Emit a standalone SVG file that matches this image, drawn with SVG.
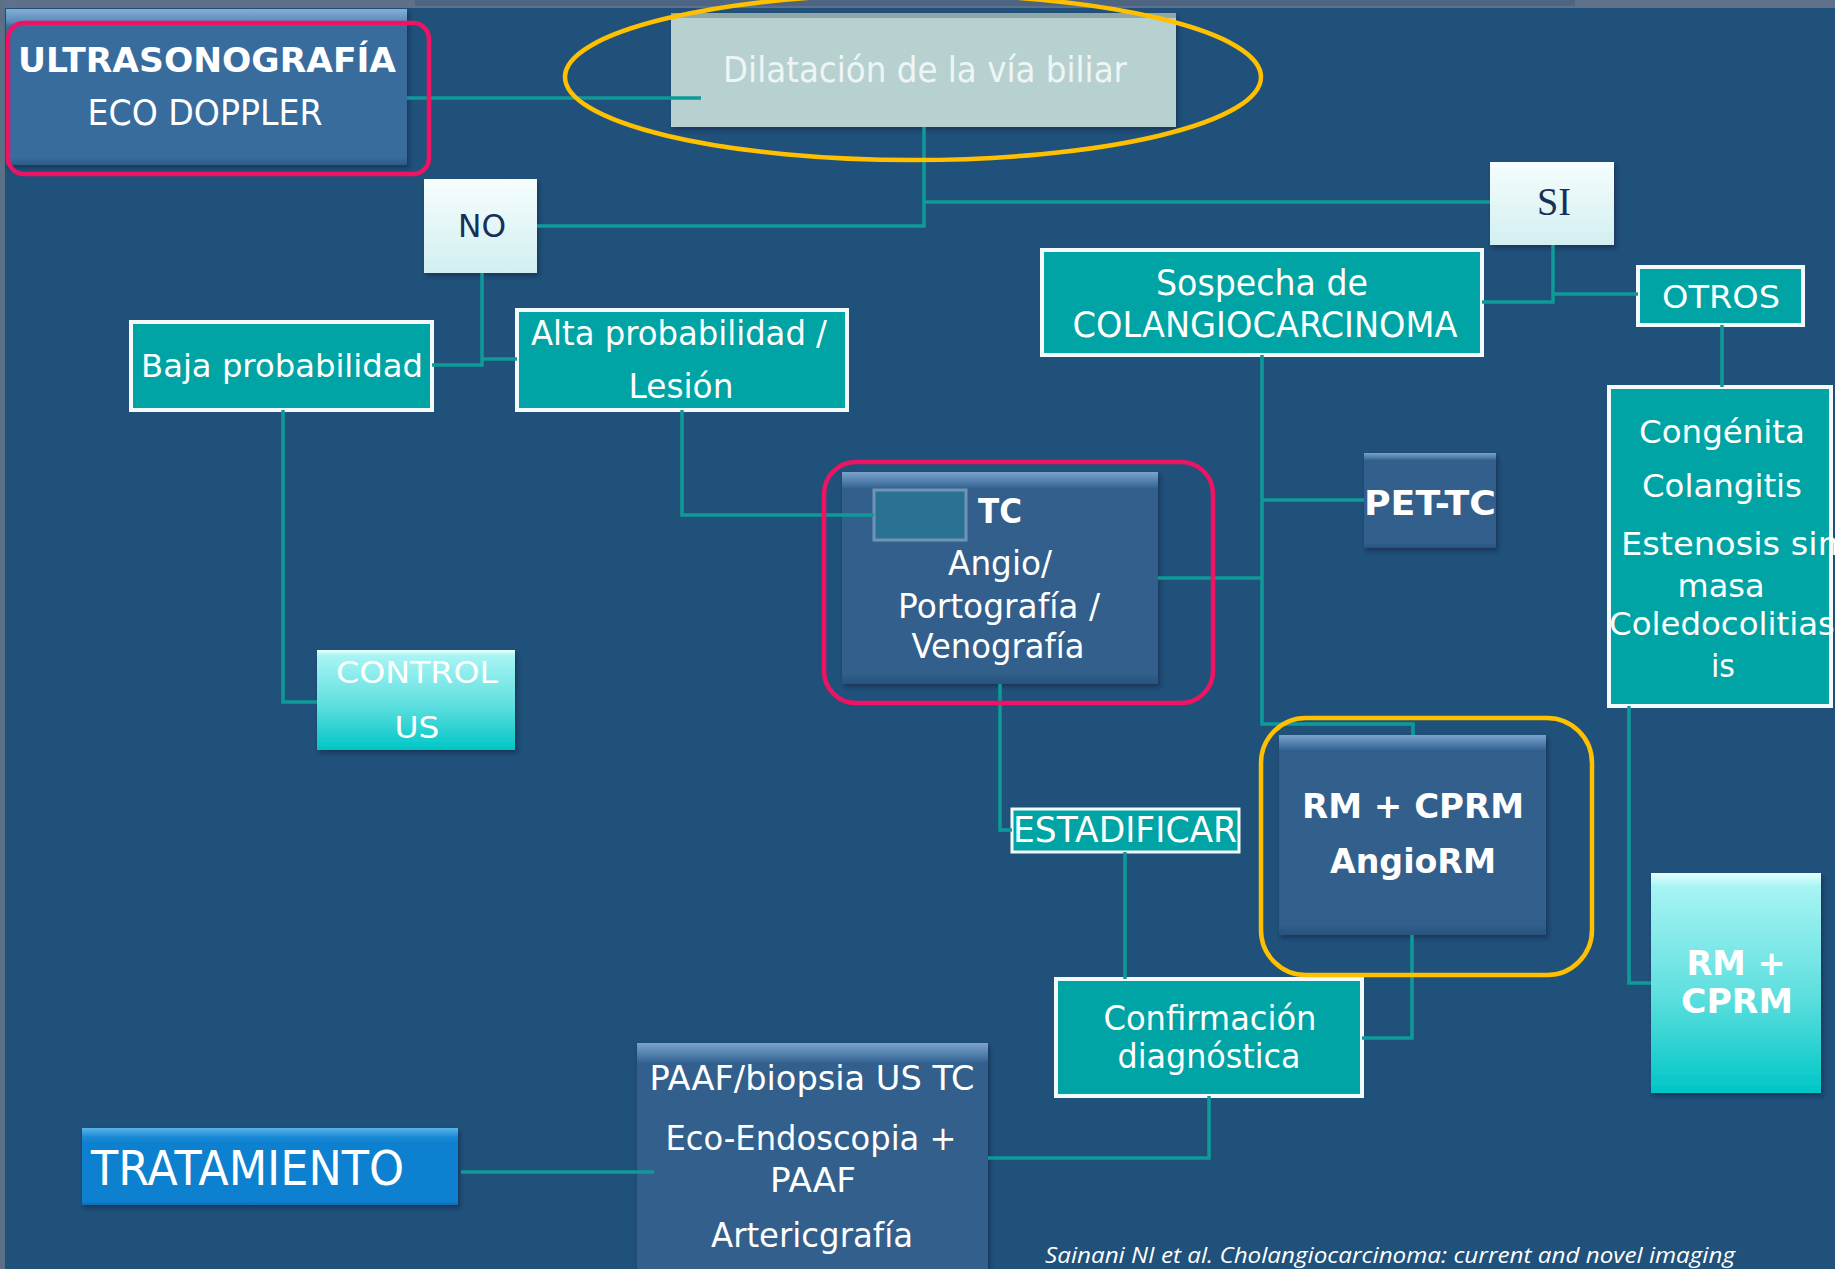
<svg xmlns="http://www.w3.org/2000/svg" width="1835" height="1269" viewBox="0 0 1835 1269">
<defs>
<style>
.t{font-family:"DejaVu Sans",Verdana,sans-serif;fill:#ffffff;text-anchor:middle}
.b{font-weight:bold}
.dk{fill:#16305a}
.teal{fill:#00a4a4;stroke:#f4f9f9;stroke-width:4}
.navy{fill:url(#gNavy)}
.con{fill:none;stroke:#0e9a98;stroke-width:3.5}
.pink{fill:none;stroke:#ef1364;stroke-width:4.5}
.amber{fill:none;stroke:#ffc000;stroke-width:4.5}
</style>
<linearGradient id="gNavy" x1="0" y1="0" x2="0" y2="1">
<stop offset="0" stop-color="#7aa3cc"/>
<stop offset="0.05" stop-color="#4c7aa8"/>
<stop offset="0.08" stop-color="#305f8c"/>
<stop offset="0.95" stop-color="#305f8c"/>
<stop offset="1" stop-color="#29537d"/>
</linearGradient>
<linearGradient id="gUltra" x1="0" y1="0" x2="0" y2="1">
<stop offset="0" stop-color="#84aed6"/>
<stop offset="0.08" stop-color="#5b8cbb"/>
<stop offset="0.11" stop-color="#386c9d"/>
<stop offset="0.95" stop-color="#386c9d"/>
<stop offset="1" stop-color="#2d5c88"/>
</linearGradient>
<linearGradient id="gTrat" x1="0" y1="0" x2="0" y2="1">
<stop offset="0" stop-color="#5ab6e8"/>
<stop offset="0.12" stop-color="#1a8ad6"/>
<stop offset="0.2" stop-color="#0b80d0"/>
<stop offset="0.95" stop-color="#0b80d0"/>
<stop offset="1" stop-color="#0a6fb4"/>
</linearGradient>
<linearGradient id="gCyan" x1="0" y1="0" x2="0" y2="1">
<stop offset="0" stop-color="#e8ffff"/>
<stop offset="0.06" stop-color="#a8f4f4"/>
<stop offset="0.55" stop-color="#5fdfdf"/>
<stop offset="1" stop-color="#00c6c6"/>
</linearGradient>
<linearGradient id="gWhite" x1="0" y1="0" x2="0" y2="1">
<stop offset="0" stop-color="#f6fdfd"/>
<stop offset="1" stop-color="#d2eff0"/>
</linearGradient>
<filter id="sh" x="-10%" y="-10%" width="130%" height="130%">
<feDropShadow dx="2" dy="3" stdDeviation="2" flood-color="#0a2440" flood-opacity="0.55"/>
</filter>
</defs>

<rect x="0" y="0" width="1835" height="1269" fill="#20517a"/>
<rect x="0" y="0" width="1835" height="8" fill="#5f718a"/>
<rect x="415" y="0" width="1160" height="6" fill="#4d6482"/>
<rect x="0" y="0" width="5" height="1269" fill="#5b6f86"/>

<g id="nodes">
<g id="ultrasonografia">
<rect x="6" y="9" width="401" height="156" fill="url(#gUltra)" filter="url(#sh)"/>
<text class="t b" x="207" y="72" font-size="34" textLength="378" lengthAdjust="spacingAndGlyphs">ULTRASONOGRAFÍA</text>
<text class="t" x="205" y="125" font-size="35" textLength="235" lengthAdjust="spacingAndGlyphs">ECO DOPPLER</text>
</g>
<g id="dilatacion">
<rect x="671" y="13" width="505" height="114" fill="#b7d1d0" filter="url(#sh)"/>
<rect x="671" y="13" width="505" height="5" fill="#8fa8a7"/>
<text class="t" x="925" y="82" font-size="36" style="fill:#eef5f5" textLength="404" lengthAdjust="spacingAndGlyphs">Dilatación de la vía biliar</text>
</g>
<g id="no">
<rect x="424" y="179" width="113" height="94" fill="url(#gWhite)" filter="url(#sh)"/>
<text class="t dk" x="482" y="237" font-size="32" textLength="48" lengthAdjust="spacingAndGlyphs">NO</text>
</g>
<g id="si">
<rect x="1490" y="162" width="124" height="83" fill="url(#gWhite)" filter="url(#sh)"/>
<text class="t dk" x="1554" y="215" font-size="40" style="font-family:'Liberation Serif',serif" textLength="34" lengthAdjust="spacingAndGlyphs">SI</text>
</g>
<g id="baja">
<rect class="teal" x="131" y="322" width="301" height="88"/>
<text class="t" x="282" y="377" font-size="32" textLength="282" lengthAdjust="spacingAndGlyphs">Baja probabilidad</text>
</g>
<g id="alta">
<rect class="teal" x="517" y="310" width="330" height="100"/>
<text class="t" x="679" y="345" font-size="34" textLength="296" lengthAdjust="spacingAndGlyphs">Alta probabilidad /</text>
<text class="t" x="681" y="398" font-size="34" textLength="105" lengthAdjust="spacingAndGlyphs">Lesión</text>
</g>
<g id="sospecha">
<rect class="teal" x="1042" y="250" width="440" height="105"/>
<text class="t" x="1262" y="295" font-size="35" textLength="212" lengthAdjust="spacingAndGlyphs">Sospecha de</text>
<text class="t" x="1265" y="337" font-size="35" textLength="385" lengthAdjust="spacingAndGlyphs">COLANGIOCARCINOMA</text>
</g>
<g id="otros">
<rect class="teal" x="1638" y="267" width="165" height="58"/>
<text class="t" x="1721" y="308" font-size="32" textLength="118" lengthAdjust="spacingAndGlyphs">OTROS</text>
</g>
<g id="otras-causas">
<rect class="teal" x="1609" y="387" width="222" height="319"/>
<text class="t" x="1722" y="443" font-size="32" textLength="166" lengthAdjust="spacingAndGlyphs">Congénita</text>
<text class="t" x="1722" y="497" font-size="32" textLength="160" lengthAdjust="spacingAndGlyphs">Colangitis</text>
<text class="t" x="1730" y="555" font-size="32" textLength="218" lengthAdjust="spacingAndGlyphs">Estenosis sin</text>
<text class="t" x="1721" y="597" font-size="32" textLength="87" lengthAdjust="spacingAndGlyphs">masa</text>
<text class="t" x="1722" y="635" font-size="32" textLength="226" lengthAdjust="spacingAndGlyphs">Coledocolitias</text>
<text class="t" x="1723" y="677" font-size="32" textLength="24" lengthAdjust="spacingAndGlyphs">is</text>
</g>
<g id="control-us">
<rect x="317" y="650" width="198" height="100" fill="url(#gCyan)" filter="url(#sh)"/>
<text class="t" x="417" y="683" font-size="31" textLength="162" lengthAdjust="spacingAndGlyphs">CONTROL</text>
<text class="t" x="417" y="738" font-size="31" textLength="45" lengthAdjust="spacingAndGlyphs">US</text>
</g>
<g id="tc">
<rect class="navy" x="842" y="472" width="316" height="212" filter="url(#sh)"/>
<rect x="874" y="490" width="92" height="50" fill="#2a7294" stroke="#6e95b5" stroke-width="3"/>
<text class="t b" x="1000" y="523" font-size="34" textLength="44" lengthAdjust="spacingAndGlyphs">TC</text>
<text class="t" x="1000" y="575" font-size="34" textLength="104" lengthAdjust="spacingAndGlyphs">Angio/</text>
<text class="t" x="999" y="618" font-size="34" textLength="202" lengthAdjust="spacingAndGlyphs">Portografía /</text>
<text class="t" x="998" y="658" font-size="34" textLength="173" lengthAdjust="spacingAndGlyphs">Venografía</text>
</g>
<g id="pet-tc">
<rect class="navy" x="1364" y="453" width="132" height="95" filter="url(#sh)"/>
<text class="t b" x="1430" y="515" font-size="34" textLength="132" lengthAdjust="spacingAndGlyphs">PET-TC</text>
</g>
<g id="rm-angiorm">
<rect class="navy" x="1279" y="735" width="267" height="200" filter="url(#sh)"/>
<text class="t b" x="1413" y="818" font-size="33" textLength="222" lengthAdjust="spacingAndGlyphs">RM + CPRM</text>
<text class="t b" x="1413" y="873" font-size="33" textLength="166" lengthAdjust="spacingAndGlyphs">AngioRM</text>
</g>
<g id="estadificar">
<rect x="1012" y="809" width="227" height="43" fill="#00a4a4" stroke="#f4f9f9" stroke-width="3"/>
<text class="t" x="1125" y="842" font-size="36" textLength="224" lengthAdjust="spacingAndGlyphs">ESTADIFICAR</text>
</g>
<g id="confirmacion">
<rect class="teal" x="1056" y="979" width="306" height="117"/>
<text class="t" x="1210" y="1030" font-size="33" textLength="213" lengthAdjust="spacingAndGlyphs">Confirmación</text>
<text class="t" x="1209" y="1068" font-size="33" textLength="183" lengthAdjust="spacingAndGlyphs">diagnóstica</text>
</g>
<g id="rm-cprm">
<rect x="1651" y="873" width="170" height="220" fill="url(#gCyan)" filter="url(#sh)"/>
<text class="t b" x="1736" y="975" font-size="33" textLength="99" lengthAdjust="spacingAndGlyphs">RM +</text>
<text class="t b" x="1737" y="1013" font-size="33" textLength="112" lengthAdjust="spacingAndGlyphs">CPRM</text>
</g>
<g id="paaf">
<rect class="navy" x="637" y="1043" width="351" height="260" filter="url(#sh)"/>
<text class="t" x="812" y="1090" font-size="33" textLength="325" lengthAdjust="spacingAndGlyphs">PAAF/biopsia US TC</text>
<text class="t" x="811" y="1150" font-size="33" textLength="291" lengthAdjust="spacingAndGlyphs">Eco-Endoscopia +</text>
<text class="t" x="813" y="1192" font-size="33" textLength="86" lengthAdjust="spacingAndGlyphs">PAAF</text>
<text class="t" x="812" y="1247" font-size="33" textLength="202" lengthAdjust="spacingAndGlyphs">Artericgrafía</text>
</g>
<g id="tratamiento">
<rect x="82" y="1128" width="376" height="77" fill="url(#gTrat)" filter="url(#sh)"/>
<text class="t" x="91" y="1185" font-size="48" style="text-anchor:start" textLength="313" lengthAdjust="spacingAndGlyphs">TRATAMIENTO</text>
</g>
</g>

<g id="connectors">
<path class="con" d="M407 98 H701"/>
<path class="con" d="M924 127 V226 H537"/>
<path class="con" d="M924 202 H1490"/>
<path class="con" d="M482 273 V365 H432"/>
<path class="con" d="M482 359 H517"/>
<path class="con" d="M283 410 V702 H317"/>
<path class="con" d="M682 410 V515 H874"/>
<path class="con" d="M1553 245 V302 H1482"/>
<path class="con" d="M1553 294 H1638"/>
<path class="con" d="M1722 325 V387"/>
<path class="con" d="M1629 706 V983 H1651"/>
<path class="con" d="M1262 355 V724 H1413 V735"/>
<path class="con" d="M1262 500 H1364"/>
<path class="con" d="M1158 578 H1262"/>
<path class="con" d="M1000 684 V830 H1012"/>
<path class="con" d="M1125 852 V979"/>
<path class="con" d="M1412 935 V1038 H1362"/>
<path class="con" d="M1209 1096 V1158 H988"/>
<path class="con" d="M461 1172 H654" stroke-width="5"/>
</g>

<g id="highlights">
<rect class="pink" x="8" y="23" width="421" height="151" rx="16"/>
<ellipse class="amber" cx="913" cy="77" rx="348" ry="83"/>
<rect class="pink" x="824" y="462" width="389" height="241" rx="32"/>
<rect class="amber" x="1261" y="718" width="331" height="257" rx="45"/>
</g>

<text x="1045" y="1263" font-family="'Open Sans','DejaVu Sans',sans-serif" font-style="italic" font-size="21" fill="#ffffff" textLength="690" lengthAdjust="spacingAndGlyphs">Sainani NI et al. Cholangiocarcinoma: current and novel imaging</text>
</svg>
